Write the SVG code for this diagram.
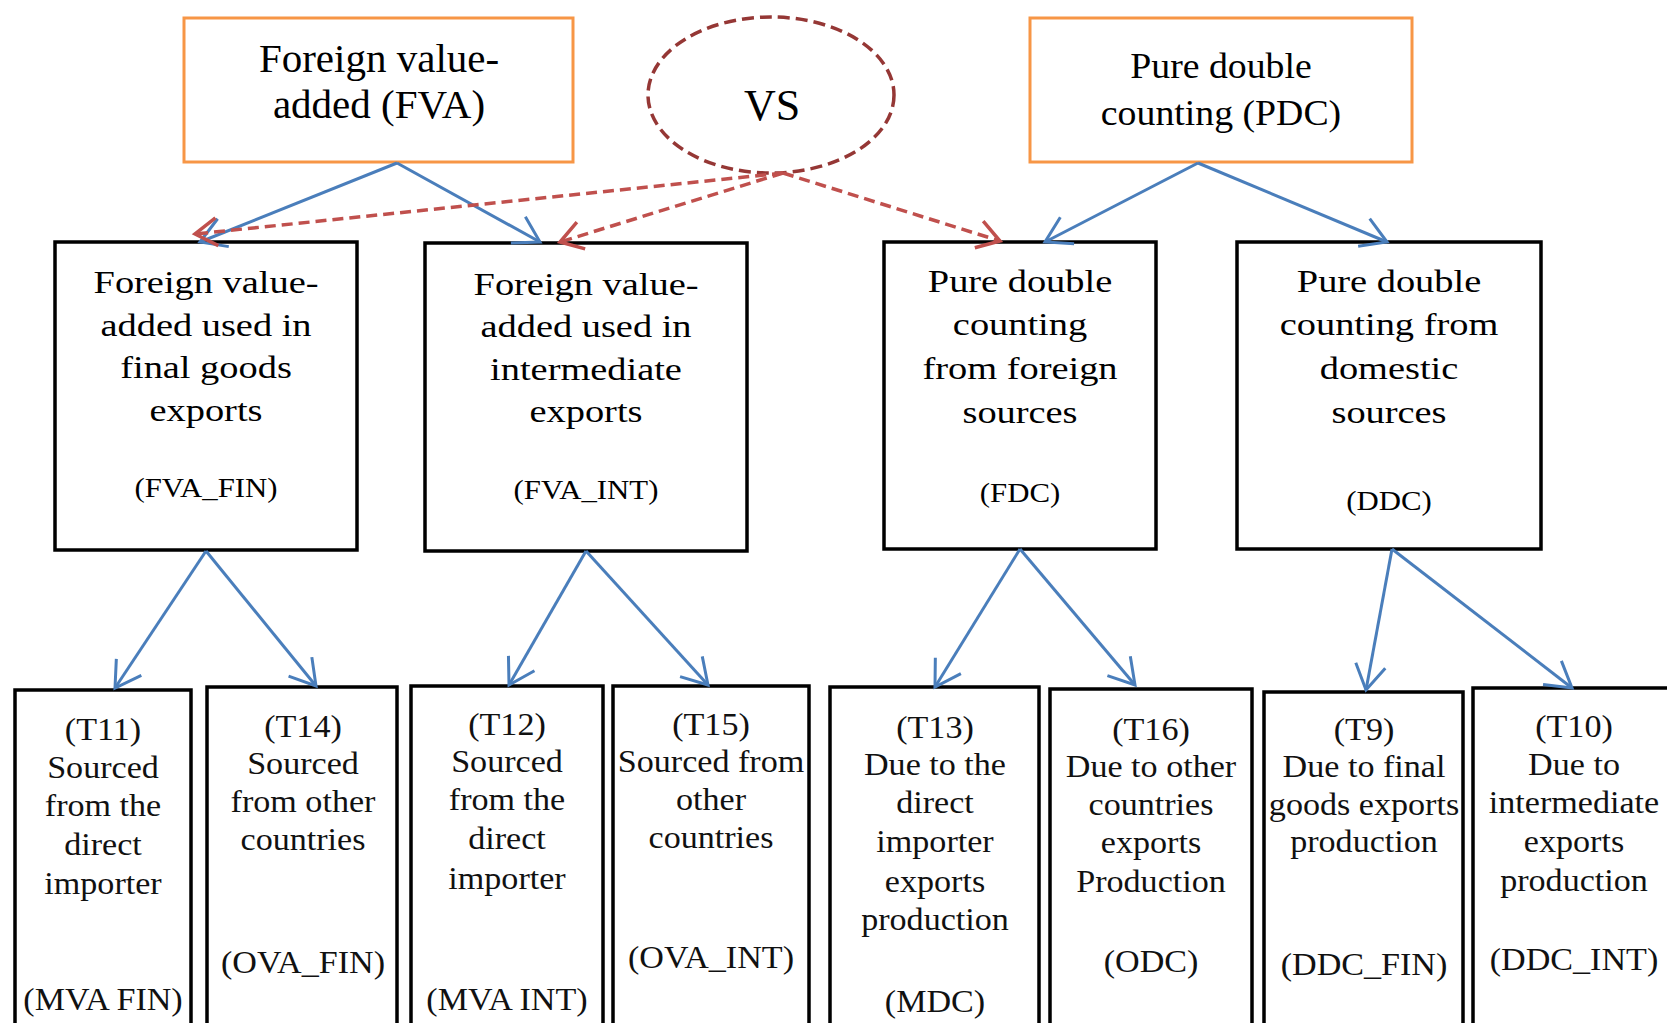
<svg xmlns="http://www.w3.org/2000/svg" width="1667" height="1023" viewBox="0 0 1667 1023">
<style>
text{font-family:"Liberation Serif","Times New Roman",serif;fill:#000;text-anchor:middle}
.orange{fill:#fff;stroke:#F79646;stroke-width:3}
.box{fill:#fff;stroke:#000;stroke-width:3.5}
.mid{font-size:32px}
.lbl{font-size:28px}
.bot{font-size:31px;fill:#111}
.blue{fill:none;stroke:#4A7EBB;stroke-width:3;marker-end:url(#ab)}
.red{fill:none;stroke:#C0504D;stroke-width:3.5;stroke-dasharray:11 6;marker-end:url(#ar)}
</style>
<defs>
<marker id="ab" markerUnits="userSpaceOnUse" markerWidth="60" markerHeight="60" viewBox="-30 -30 60 60" refX="0" refY="0" orient="auto" overflow="visible">
<path d="M-25,-15 L0,0 L-25,15" fill="none" stroke="#4A7EBB" stroke-width="3"/>
</marker>
<marker id="ar" markerUnits="userSpaceOnUse" markerWidth="60" markerHeight="60" viewBox="-30 -30 60 60" refX="0" refY="0" orient="auto" overflow="visible">
<path d="M-22,-14 L0,0 L-22,14" fill="none" stroke="#C0504D" stroke-width="3.5"/>
</marker>
</defs>
<rect width="1667" height="1023" fill="#fff"/>

<g id="fva">
<rect class="orange" x="184" y="18" width="389" height="144"/>
<g transform="translate(379 0)">
<text x="0" y="72" style="font-size:41px">Foreign value-</text>
<text x="0" y="118" style="font-size:41px">added (FVA)</text>
</g>
</g>

<g id="vs">
<ellipse cx="771" cy="95" rx="123" ry="78" fill="none" stroke="#953735" stroke-width="3.5" stroke-dasharray="12 6"/>
<text x="772" y="120" style="font-size:44px">VS</text>
</g>

<g id="pdc">
<rect class="orange" x="1030" y="18" width="382" height="144"/>
<g transform="translate(1221 0) scale(1.08 1)">
<text x="0" y="78" style="font-size:35px">Pure double</text>
<text x="0" y="125" style="font-size:35px">counting (PDC)</text>
</g>
</g>

<g id="fva_fin">
<rect class="box" x="55" y="242" width="302" height="308"/>
<g transform="translate(206 0) scale(1.2 1)">
<text class="mid" x="0" y="293">Foreign value-</text>
<text class="mid" x="0" y="336">added used in</text>
<text class="mid" x="0" y="378">final goods</text>
<text class="mid" x="0" y="421">exports</text>
</g>
<g transform="translate(206 0) scale(1.1 1)"><text class="lbl" x="0" y="497">(FVA_FIN)</text></g>
</g>

<g id="fva_int">
<rect class="box" x="425" y="243" width="322" height="308"/>
<g transform="translate(586 0) scale(1.2 1)">
<text class="mid" x="0" y="295">Foreign value-</text>
<text class="mid" x="0" y="337">added used in</text>
<text class="mid" x="0" y="380">intermediate</text>
<text class="mid" x="0" y="422">exports</text>
</g>
<g transform="translate(586 0) scale(1.1 1)"><text class="lbl" x="0" y="499">(FVA_INT)</text></g>
</g>

<g id="fdc">
<rect class="box" x="884" y="242" width="272" height="307"/>
<g transform="translate(1020 0) scale(1.2 1)">
<text class="mid" x="0" y="292">Pure double</text>
<text class="mid" x="0" y="335">counting</text>
<text class="mid" x="0" y="379">from foreign</text>
<text class="mid" x="0" y="423">sources</text>
</g>
<g transform="translate(1020 0) scale(1.1 1)"><text class="lbl" x="0" y="502">(FDC)</text></g>
</g>

<g id="ddc">
<rect class="box" x="1237" y="242" width="304" height="307"/>
<g transform="translate(1389 0) scale(1.2 1)">
<text class="mid" x="0" y="292">Pure double</text>
<text class="mid" x="0" y="335">counting from</text>
<text class="mid" x="0" y="379">domestic</text>
<text class="mid" x="0" y="423">sources</text>
</g>
<g transform="translate(1389 0) scale(1.1 1)"><text class="lbl" x="0" y="510">(DDC)</text></g>
</g>

<g id="t11">
<rect class="box" x="15" y="690" width="176" height="350"/>
<g transform="translate(103 0) scale(1.1 1)">
<text class="bot" x="0" y="740">(T11)</text>
<text class="bot" x="0" y="778">Sourced</text>
<text class="bot" x="0" y="816">from the</text>
<text class="bot" x="0" y="855">direct</text>
<text class="bot" x="0" y="894">importer</text>
<text class="bot" x="0" y="1010">(MVA FIN)</text>
</g>
</g>

<g id="t14">
<rect class="box" x="207" y="687" width="190" height="353"/>
<g transform="translate(303 0) scale(1.1 1)">
<text class="bot" x="0" y="737">(T14)</text>
<text class="bot" x="0" y="774">Sourced</text>
<text class="bot" x="0" y="812">from other</text>
<text class="bot" x="0" y="850">countries</text>
<text class="bot" x="0" y="973">(OVA_FIN)</text>
</g>
</g>

<g id="t12">
<rect class="box" x="411" y="686" width="192" height="354"/>
<g transform="translate(507 0) scale(1.1 1)">
<text class="bot" x="0" y="735">(T12)</text>
<text class="bot" x="0" y="772">Sourced</text>
<text class="bot" x="0" y="810">from the</text>
<text class="bot" x="0" y="849">direct</text>
<text class="bot" x="0" y="889">importer</text>
<text class="bot" x="0" y="1010">(MVA INT)</text>
</g>
</g>

<g id="t15">
<rect class="box" x="613" y="686" width="196" height="354"/>
<g transform="translate(711 0) scale(1.1 1)">
<text class="bot" x="0" y="735">(T15)</text>
<text class="bot" x="0" y="772">Sourced from</text>
<text class="bot" x="0" y="810">other</text>
<text class="bot" x="0" y="848">countries</text>
<text class="bot" x="0" y="968">(OVA_INT)</text>
</g>
</g>

<g id="t13">
<rect class="box" x="830" y="687" width="209" height="353"/>
<g transform="translate(935 0) scale(1.1 1)">
<text class="bot" x="0" y="738">(T13)</text>
<text class="bot" x="0" y="775">Due to the</text>
<text class="bot" x="0" y="813">direct</text>
<text class="bot" x="0" y="852">importer</text>
<text class="bot" x="0" y="892">exports</text>
<text class="bot" x="0" y="930">production</text>
<text class="bot" x="0" y="1012">(MDC)</text>
</g>
</g>

<g id="t16">
<rect class="box" x="1050" y="689" width="202" height="351"/>
<g transform="translate(1151 0) scale(1.1 1)">
<text class="bot" x="0" y="740">(T16)</text>
<text class="bot" x="0" y="777">Due to other</text>
<text class="bot" x="0" y="815">countries</text>
<text class="bot" x="0" y="853">exports</text>
<text class="bot" x="0" y="892">Production</text>
<text class="bot" x="0" y="972">(ODC)</text>
</g>
</g>

<g id="t9">
<rect class="box" x="1264" y="692" width="199" height="348"/>
<g transform="translate(1364 0) scale(1.1 1)">
<text class="bot" x="0" y="740">(T9)</text>
<text class="bot" x="0" y="777">Due to final</text>
<text class="bot" x="0" y="815">goods exports</text>
<text class="bot" x="0" y="852">production</text>
<text class="bot" x="0" y="975">(DDC_FIN)</text>
</g>
</g>

<g id="t10">
<rect class="box" x="1473" y="688" width="204" height="352"/>
<g transform="translate(1574 0) scale(1.1 1)">
<text class="bot" x="0" y="737">(T10)</text>
<text class="bot" x="0" y="775">Due to</text>
<text class="bot" x="0" y="813">intermediate</text>
<text class="bot" x="0" y="852">exports</text>
<text class="bot" x="0" y="891">production</text>
<text class="bot" x="0" y="970">(DDC_INT)</text>
</g>
</g>

<g id="connectors">
<line class="blue" x1="397" y1="163" x2="200" y2="242"/>
<line class="blue" x1="397" y1="163" x2="540" y2="242"/>
<line class="blue" x1="1198" y1="163" x2="1045" y2="242"/>
<line class="blue" x1="1198" y1="163" x2="1387" y2="242"/>
<line class="red" x1="783" y1="173" x2="195" y2="234"/>
<line class="red" x1="783" y1="173" x2="560" y2="242"/>
<line class="red" x1="783" y1="173" x2="1000" y2="241"/>
<line class="blue" x1="206" y1="551" x2="115" y2="688"/>
<line class="blue" x1="206" y1="551" x2="316" y2="686"/>
<line class="blue" x1="586" y1="551" x2="509" y2="685"/>
<line class="blue" x1="586" y1="551" x2="708" y2="685"/>
<line class="blue" x1="1020" y1="549" x2="935" y2="687"/>
<line class="blue" x1="1020" y1="549" x2="1135" y2="685"/>
<line class="blue" x1="1392" y1="549" x2="1366" y2="690"/>
<line class="blue" x1="1392" y1="549" x2="1572" y2="688"/>
</g>
</svg>
